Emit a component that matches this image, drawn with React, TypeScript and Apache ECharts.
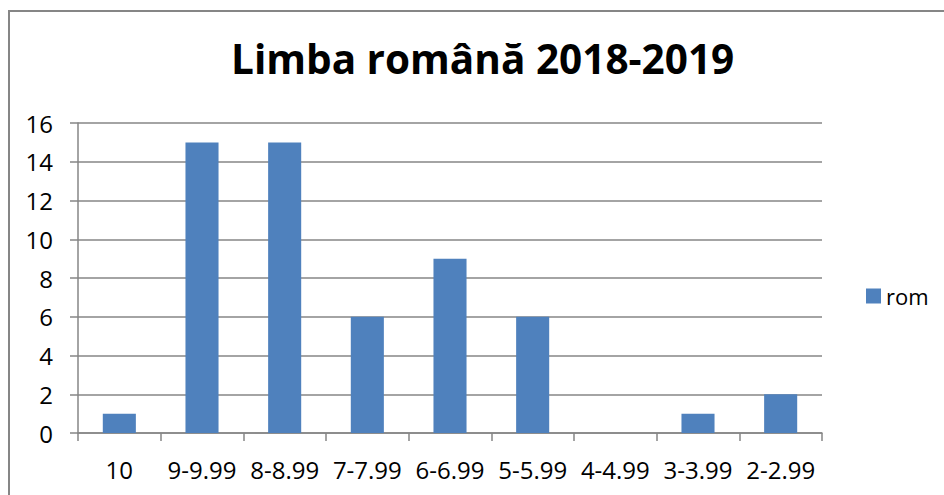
import React, { useEffect, useRef } from "react";
import * as echarts from "echarts";

const categories = ["10", "9-9.99", "8-8.99", "7-7.99", "6-6.99", "5-5.99", "4-4.99", "3-3.99", "2-2.99"];
const romValues = [1, 15, 15, 6, 9, 6, 0, 1, 2];
const seriesName = "rom";
const titleText = "Limba română 2018-2019";

export default function App() {
  const ref = useRef<HTMLDivElement>(null);
  useEffect(() => {
    if (!ref.current) return;
    const chart = echarts.init(ref.current, null, { renderer: "svg" });
    const font = "Open Sans";
    chart.setOption({
      animation: false,
      backgroundColor: "#ffffff",
      title: {
        text: titleText,
        left: 226,
        top: 33,
        textStyle: { fontFamily: font, fontSize: 40.5, fontWeight: "bold", color: "#000000" },
      },
      legend: {
        left: 861,
        top: 280,
        itemWidth: 15,
        itemHeight: 15,
        itemGap: 7,
        icon: "rect",
        data: [seriesName],
        textStyle: { fontFamily: font, fontSize: 22, color: "#000000" },
      },
      grid: { left: 78, right: 122, top: 123, bottom: 62, containLabel: false },
      xAxis: {
        type: "category",
        data: categories,
        boundaryGap: true,
        axisLine: { lineStyle: { color: "#868686", width: 1.5 } },
        axisTick: { show: true, length: 8, lineStyle: { color: "#868686", width: 1.5 } },
        axisLabel: { fontFamily: font, fontSize: 24, color: "#000000", margin: 24, interval: 0 },
        splitLine: { show: false },
      },
      yAxis: {
        type: "value",
        min: 0,
        max: 16,
        interval: 2,
        axisLine: { show: true, lineStyle: { color: "#868686", width: 1.5 } },
        axisTick: { show: true, length: 8, lineStyle: { color: "#868686", width: 1.5 } },
        axisLabel: { fontFamily: font, fontSize: 24, color: "#000000", margin: 25 },
        splitLine: { show: true, lineStyle: { color: "#868686", width: 1.5 } },
      },
      series: [
        {
          name: seriesName,
          type: "bar",
          data: romValues,
          barWidth: "40%",
          itemStyle: { color: "#4F81BD" },
        },
      ],
      graphic: [
        {
          type: "rect",
          shape: { x: 9, y: 11, width: 1000, height: 1000 },
          style: { fill: "none", stroke: "#868686", lineWidth: 2 },
          silent: true,
        },
      ],
    });
    return () => chart.dispose();
  }, []);
  return (
    <div
      ref={ref}
      style={{ position: "fixed", left: 0, top: 0, width: 944, height: 495, background: "#fff" }}
    />
  );
}
